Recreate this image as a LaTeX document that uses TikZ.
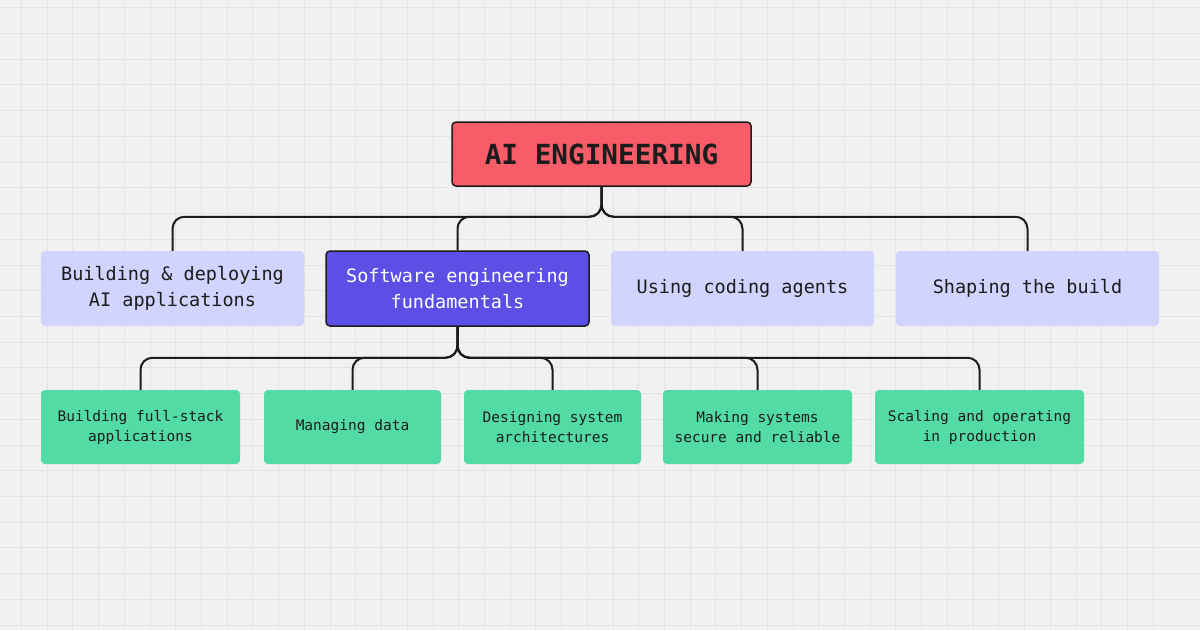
\documentclass[tikz,border=0pt]{standalone}
\usepackage{fontspec}
\usepackage{tikz}
\usetikzlibrary{positioning}
\newfontfamily\monofont{DejaVu Sans Mono}
\definecolor{canvas}{RGB}{241, 241, 241}
\definecolor{gridgray}{RGB}{227, 227, 227}
\definecolor{inkdark}{RGB}{28, 28, 28}
\definecolor{aired}{RGB}{249, 92, 105}
\definecolor{lavender}{RGB}{208, 212, 254}
\definecolor{violet}{RGB}{91, 79, 230}
\definecolor{mint}{RGB}{82, 219, 165}

\begin{document}
\begin{tikzpicture}[x=1pt, y=-1pt,
    gridline/.style={gridgray, line width=1.4pt},
    rootbox/.style={fill=aired, draw=inkdark, line width=1.5pt, rounded corners=4pt,
        minimum width=299pt, minimum height=64pt, inner sep=0pt,
        font=\monofont\bfseries\fontsize{27.7}{32}\selectfont, text=inkdark},
    areabox/.style={fill=lavender, rounded corners=4pt, minimum width=263pt,
        minimum height=75pt, inner sep=0pt, align=center,
        font=\monofont\fontsize{18.5}{26}\selectfont, text=inkdark},
    pickbox/.style={areabox, fill=violet, draw=inkdark, line width=1.5pt, text=white},
    topicbox/.style={fill=mint, rounded corners=4pt, minimum height=74pt,
        inner sep=0pt, align=center,
        font=\monofont\fontsize{14.5}{20}\selectfont, text=inkdark},
    link/.style={inkdark, line width=2pt, rounded corners=12pt}]
                    \useasboundingbox (0,0) rectangle (1200,630);
                    \fill[canvas] (0,0) rectangle (1200,630);
                    \begin{scope}
                    \clip (0,0) rectangle (1200,630);
                    \foreach \i in {0,...,45}
                        \draw[gridline] ({round(21+25.72*(\i-1))+0.5},0) -- ++(0,630);
                    \foreach \j in {0,...,24}
                        \draw[gridline] (0,{round(7.3+25.72*\j)+0.5}) -- ++(1200,0);
                    \end{scope}
                    % top level
                    \node[rootbox] (root) at (601.5,154) {AI ENGINEERING};
                    % second level
                    \node[areabox] (deploy) at (172.5,288.5) {Building \& deploying\\AI applications};
                    \node[pickbox] (fundamentals) at (457.5,288.5) {Software engineering\\fundamentals};
                    \node[areabox] (agents) at (742.5,288.5) {Using coding agents};
                    \node[areabox] (shaping) at (1027.5,288.5) {Shaping the build};
                    % third level
                    \node[topicbox, minimum width=199pt] (fullstack) at (140.5,427) {Building full-stack\\applications};
                    \node[topicbox, minimum width=177pt] (data) at (352.5,427) {Managing data};
                    \node[topicbox, minimum width=177pt] (design) at (552.5,427) {Designing system\\architectures};
                    \node[topicbox, minimum width=189pt] (secure) at (757.5,427) {Making systems\\secure and reliable};
                    \node[topicbox, minimum width=209pt] (scaling) at (979.5,427) {Scaling and operating\\in production};
                    % connectors
                    \foreach \child in {deploy, fundamentals, agents, shaping}
                        \draw[link] (root.south) -- ++(0,30) -| (\child.north);
                    \foreach \child in {fullstack, data, design, secure, scaling}
                        \draw[link] (fundamentals.south) -- ++(0,31) -| (\child.north);
                \end{tikzpicture}
\end{document}
